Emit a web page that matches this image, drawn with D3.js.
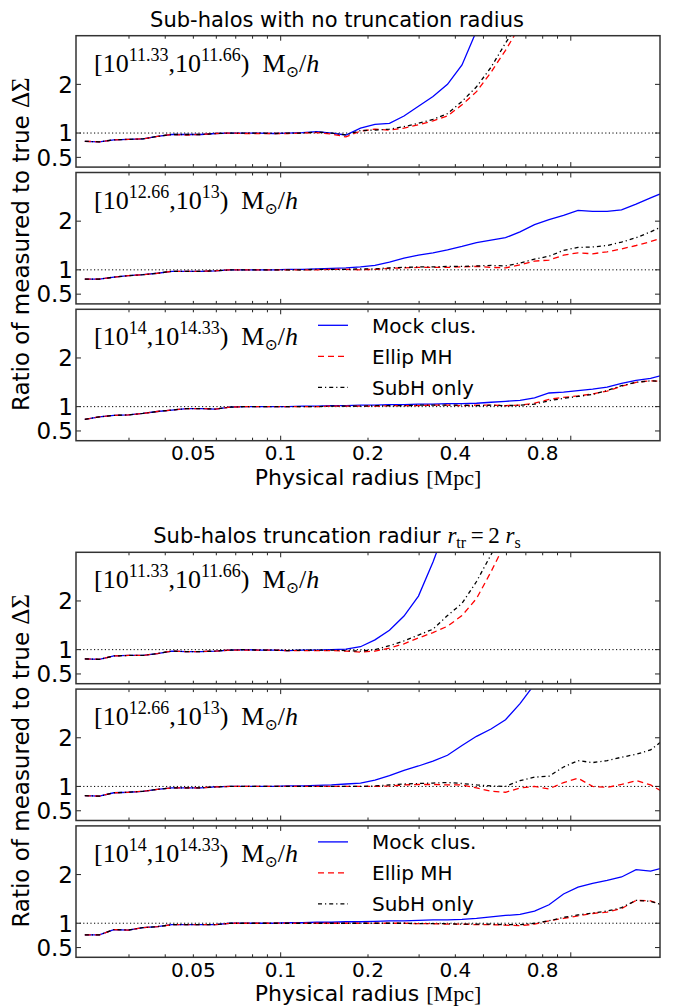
<!DOCTYPE html>
<html><head><meta charset="utf-8">
<script src="https://cdn.jsdelivr.net/npm/d3@7"></script>
<style>body{margin:0;background:#fff}svg{display:block}</style>
</head><body>
<svg id="c" width="675" height="1007"></svg>
<script>
// ---------- data ----------
const radius = [0.02113,0.02371,0.02661,0.02985,0.03350,0.03758,0.04217,0.04732,0.05309,0.05957,
  0.06683,0.07499,0.08414,0.09441,0.1059,0.1189,0.1334,0.1496,0.1679,0.1884,
  0.2113,0.2371,0.2661,0.2985,0.3350,0.3758,0.4217,0.4732,0.5309,0.5957,
  0.6683,0.7499,0.8414,0.9441,1.059,1.189,1.334,1.496,1.679,1.884,2.113];

const groupTitles = ["Sub-halos with no truncation radius", "Sub-halos truncation radiur"];
const massLo = ["11.33", "12.66", "14"];
const massHi = ["11.66", "13", "14.33"];
const seriesNames = ["Mock clus.", "Ellip MH", "SubH only"];

const xTickLabels = [0.05, 0.1, 0.2, 0.4, 0.8];
const xMajorTicks = [0.1, 1];
const xMinorTicks = [0.03,0.04,0.05,0.06,0.07,0.08,0.09,0.2,0.3,0.4,0.5,0.6,0.7,0.8,0.9];
const yTicks = [0.5, 1, 2];
const yTickLabels = ["0.5", "1", "2"];

// no truncation radius
const nt1Mock  = [0.83,0.82,0.86,0.87,0.88,0.93,0.97,0.97,0.97,0.99,1.0,1.0,1.0,0.99,1.0,1.01,1.03,1.0,0.96,1.1,1.18,1.2,1.35,1.55,1.75,2.0,2.4,3.1];
const nt1Ellip = [0.83,0.82,0.86,0.87,0.88,0.93,0.97,0.96,0.97,0.99,1.0,0.99,0.99,0.99,0.99,1.0,1.01,0.98,0.92,1.04,1.08,1.06,1.1,1.17,1.25,1.35,1.58,1.85,2.25,2.7,3.2];
const nt1SubH  = [0.83,0.82,0.86,0.87,0.88,0.93,0.97,0.97,0.97,0.99,1.0,1.0,1.0,0.99,1.0,1.0,1.02,1.0,0.96,1.05,1.06,1.08,1.13,1.2,1.28,1.4,1.65,1.95,2.35,2.85,3.3];

const nt2Mock  = [0.81,0.81,0.85,0.88,0.9,0.93,0.97,0.97,0.97,0.98,1.0,1.0,1.0,1.0,1.01,1.01,1.02,1.03,1.04,1.06,1.09,1.16,1.24,1.3,1.35,1.41,1.48,1.56,1.61,1.66,1.78,1.93,2.03,2.12,2.22,2.2,2.2,2.23,2.35,2.48,2.6];
const nt2Ellip = [0.81,0.81,0.85,0.88,0.9,0.93,0.97,0.97,0.97,0.98,1.0,1.0,1.0,1.0,1.0,1.0,1.0,1.01,1.01,1.0,1.01,1.03,1.04,1.05,1.05,1.05,1.06,1.07,1.05,1.04,1.1,1.18,1.2,1.3,1.35,1.33,1.37,1.43,1.5,1.58,1.68];
const nt2SubH  = [0.81,0.81,0.85,0.88,0.9,0.93,0.97,0.97,0.97,0.98,1.0,1.0,1.0,1.0,1.0,1.0,1.01,1.01,1.01,1.02,1.02,1.04,1.05,1.06,1.06,1.07,1.07,1.08,1.09,1.08,1.14,1.22,1.28,1.4,1.46,1.47,1.5,1.57,1.66,1.78,1.92];

const nt3Mock  = [0.74,0.79,0.82,0.83,0.86,0.9,0.93,0.96,0.96,0.95,0.99,1.0,1.0,1.0,1.0,1.01,1.01,1.02,1.02,1.03,1.03,1.04,1.04,1.05,1.05,1.06,1.06,1.07,1.09,1.11,1.13,1.18,1.28,1.3,1.33,1.36,1.4,1.48,1.54,1.58,1.66];
const nt3Ellip = [0.74,0.79,0.82,0.83,0.86,0.9,0.93,0.96,0.96,0.95,0.99,1.0,1.0,1.0,1.0,1.0,1.0,1.01,1.01,1.01,1.01,1.02,1.02,1.02,1.03,1.03,1.02,1.03,1.03,1.02,1.03,1.07,1.15,1.19,1.22,1.26,1.32,1.42,1.5,1.53,1.52];
const nt3SubH  = [0.74,0.79,0.82,0.83,0.86,0.9,0.93,0.96,0.96,0.95,0.99,1.0,1.0,1.0,1.0,1.0,1.0,1.01,1.01,1.01,1.02,1.02,1.02,1.03,1.03,1.03,1.03,1.02,1.03,1.02,1.03,1.05,1.12,1.17,1.21,1.25,1.33,1.43,1.5,1.53,1.52];

// truncation radius r_tr = 2 r_s
const tr1Mock  = [0.81,0.8,0.87,0.88,0.88,0.92,0.97,0.96,0.96,0.97,0.99,1.0,0.99,0.99,0.98,0.99,0.99,1.0,1.01,1.06,1.2,1.4,1.69,2.1,2.8,3.6];
const tr1Ellip = [0.81,0.8,0.87,0.88,0.88,0.92,0.97,0.96,0.96,0.97,0.99,0.99,0.99,0.99,0.98,0.98,0.98,0.98,0.97,0.95,0.97,1.03,1.12,1.24,1.35,1.48,1.7,2.05,2.6,3.2];
const tr1SubH  = [0.81,0.8,0.87,0.88,0.88,0.92,0.97,0.96,0.96,0.97,0.99,1.0,0.99,0.99,0.98,0.99,0.99,0.99,0.98,0.97,1.0,1.08,1.18,1.3,1.42,1.7,1.95,2.4,2.95,3.5];

const tr2Mock  = [0.81,0.8,0.87,0.88,0.9,0.94,0.97,0.97,0.97,0.99,1.0,1.0,1.0,1.0,1.01,1.01,1.02,1.03,1.05,1.07,1.13,1.22,1.33,1.42,1.52,1.64,1.84,2.03,2.18,2.37,2.7,3.1];
const tr2Ellip = [0.81,0.8,0.87,0.88,0.9,0.94,0.97,0.97,0.97,0.99,1.0,1.0,1.0,1.0,1.0,1.0,1.0,1.0,1.0,1.0,1.0,1.01,1.03,1.04,1.04,1.03,1.03,0.97,0.9,0.88,0.97,1.0,0.95,1.08,1.17,1.0,0.98,1.04,1.12,1.03,0.86];
const tr2SubH  = [0.81,0.8,0.87,0.88,0.9,0.94,0.97,0.97,0.97,0.99,1.0,1.0,1.0,1.0,1.0,1.0,1.0,1.0,1.0,1.0,1.01,1.03,1.05,1.06,1.07,1.08,1.06,1.03,1.01,1.0,1.12,1.19,1.21,1.4,1.53,1.49,1.53,1.6,1.66,1.75,1.98];

const tr3Mock  = [0.76,0.76,0.87,0.86,0.91,0.93,0.97,0.97,0.97,0.97,1.0,1.0,1.0,1.0,1.01,1.01,1.02,1.02,1.03,1.03,1.04,1.05,1.05,1.06,1.07,1.07,1.08,1.1,1.13,1.16,1.18,1.25,1.38,1.6,1.74,1.82,1.88,1.95,2.1,2.07,2.15];
const tr3Ellip = [0.76,0.76,0.87,0.86,0.91,0.93,0.97,0.97,0.97,0.97,1.0,1.0,1.0,1.0,1.0,1.0,1.0,1.0,1.0,1.0,1.0,1.0,1.0,0.99,0.99,0.98,0.98,0.97,0.97,0.96,0.95,0.98,1.05,1.1,1.15,1.2,1.23,1.3,1.47,1.46,1.35];
const tr3SubH  = [0.76,0.76,0.87,0.86,0.91,0.93,0.97,0.97,0.97,0.97,1.0,1.0,1.0,1.0,1.0,1.0,1.0,1.0,1.0,1.0,1.0,1.0,1.0,0.99,0.99,0.99,0.98,0.98,0.98,0.97,0.97,1.0,1.05,1.12,1.17,1.21,1.25,1.32,1.47,1.45,1.36];

const groups = [
  [[nt1Mock, nt1Ellip, nt1SubH], [nt2Mock, nt2Ellip, nt2SubH], [nt3Mock, nt3Ellip, nt3SubH]],
  [[tr1Mock, tr1Ellip, tr1SubH], [tr2Mock, tr2Ellip, tr2SubH], [tr3Mock, tr3Ellip, tr3SubH]]
];

// ---------- layout ----------
const L = 76, R = 660, PH = 131.4, GAP = 5.4;
const groupTop = [35.7, 552.3];
const SANS = "DejaVu Sans", SERIF = "Liberation Serif";
const styles = [
  {color: "#0000ff", dash: null},
  {color: "#ff0000", dash: "6,4"},
  {color: "#000000", dash: "4,3,1.2,3"}
];

const svg = d3.select("#c");
const x = d3.scaleLog().domain([0.0197, 2.03]).range([L, R]);

function massLabel(g, top, lo, hi) {
  const t = g.append("text").attr("x", 94).attr("y", top + 36)
    .attr("font-family", SERIF).attr("font-size", 26).attr("fill", "#000");
  t.append("tspan").text("[10");
  t.append("tspan").attr("font-size", 18).attr("dy", -11).text(lo);
  t.append("tspan").attr("dy", 11).text(",10");
  t.append("tspan").attr("font-size", 18).attr("dy", -11).text(hi);
  t.append("tspan").attr("dy", 11).text(")\u2002M");
  t.append("tspan").attr("font-size", 16).attr("dy", 5).attr("font-family", "DejaVu Serif").text("\u2299");
  t.append("tspan").attr("dy", -5).text("/");
  t.append("tspan").attr("font-style", "italic").text("h");
}

groups.forEach((panels, gi) => {
  const gTop = groupTop[gi];
  panels.forEach((series, pi) => {
    const top = gTop + pi * (PH + GAP), bot = top + PH;
    const y = d3.scaleLinear().domain([0.3, 3.0]).range([bot, top]);
    const g = svg.append("g");
    const clipId = `clip${gi}${pi}`;
    svg.append("clipPath").attr("id", clipId).append("rect")
      .attr("x", L).attr("y", top).attr("width", R - L).attr("height", PH);

    // reference line at 1
    g.append("line").attr("x1", L).attr("x2", R).attr("y1", y(1)).attr("y2", y(1))
      .attr("stroke", "#000").attr("stroke-width", 1).attr("stroke-dasharray", "1.2,2.4");

    const line = d3.line().x((d, i) => x(radius[i])).y(d => y(d));
    const lg = g.append("g").attr("clip-path", `url(#${clipId})`);
    series.forEach((vals, si) => {
      lg.append("path").datum(vals).attr("d", line).attr("fill", "none")
        .attr("stroke", styles[si].color).attr("stroke-width", 1.3)
        .attr("stroke-dasharray", styles[si].dash);
    });

    // ticks (inside)
    const tk = g.append("g").attr("stroke", "#222").attr("stroke-width", 1);
    xMinorTicks.forEach(v => {
      tk.append("line").attr("x1", x(v)).attr("x2", x(v)).attr("y1", bot).attr("y2", bot - 3);
      tk.append("line").attr("x1", x(v)).attr("x2", x(v)).attr("y1", top).attr("y2", top + 3);
    });
    xMajorTicks.forEach(v => {
      tk.append("line").attr("x1", x(v)).attr("x2", x(v)).attr("y1", bot).attr("y2", bot - 5);
      tk.append("line").attr("x1", x(v)).attr("x2", x(v)).attr("y1", top).attr("y2", top + 5);
    });
    yTicks.forEach(v => {
      tk.append("line").attr("x1", L).attr("x2", L + 5).attr("y1", y(v)).attr("y2", y(v));
      tk.append("line").attr("x1", R).attr("x2", R - 5).attr("y1", y(v)).attr("y2", y(v));
    });
    yTicks.forEach((v, k) => {
      g.append("text").attr("x", L - 3).attr("y", y(v)).attr("dy", "0.36em")
        .attr("text-anchor", "end").attr("font-family", SANS).attr("font-size", 23)
        .text(yTickLabels[k]);
    });

    // frame
    g.append("rect").attr("x", L).attr("y", top).attr("width", R - L).attr("height", PH)
      .attr("fill", "none").attr("stroke", "#333").attr("stroke-width", 1.5);

    massLabel(g, top, massLo[pi], massHi[pi]);

    if (pi === 2) {
      // legend
      seriesNames.forEach((name, si) => {
        const ly = top + 16 + si * 31;
        g.append("line").attr("x1", 318).attr("x2", 348).attr("y1", ly).attr("y2", ly)
          .attr("stroke", styles[si].color).attr("stroke-width", 1.3)
          .attr("stroke-dasharray", styles[si].dash);
        g.append("text").attr("x", 372).attr("y", ly).attr("dy", "0.36em")
          .attr("font-family", SANS).attr("font-size", 20).text(name);
      });
      // x tick labels
      xTickLabels.forEach(v => {
        g.append("text").attr("x", x(v)).attr("y", bot + 19.5).attr("text-anchor", "middle")
          .attr("font-family", SANS).attr("font-size", 20).text(String(v));
      });
      const xl = g.append("text").attr("x", (L + R) / 2).attr("y", bot + 44)
        .attr("text-anchor", "middle").attr("font-family", SANS).attr("font-size", 22);
      xl.append("tspan").text("Physical radius ");
      xl.append("tspan").attr("font-family", SERIF).attr("font-size", 22).text("[Mpc]");
    }
  });

  // y label
  const cy = gTop + (3 * PH + 2 * GAP) / 2 + 6;
  const yl = svg.append("text").attr("transform", `translate(29,${cy}) rotate(-90)`)
    .attr("text-anchor", "middle").attr("font-family", SANS).attr("font-size", 23);
  yl.append("tspan").text("Ratio of measured to true ");
  yl.append("tspan").attr("font-family", SERIF).attr("font-size", 25).text("\u0394\u03a3");

  // title (centered on figure)
  const tt = svg.append("text").attr("x", 337).attr("y", gTop - 9)
    .attr("text-anchor", "middle").attr("font-family", SANS).attr("font-size", 21);
  tt.append("tspan").text(groupTitles[gi]);
  if (gi === 1) {
    tt.append("tspan").text("\u00a0");
    tt.append("tspan").attr("font-family", SERIF).attr("font-style", "italic").attr("font-size", 23).text("r");
    tt.append("tspan").attr("font-family", SERIF).attr("font-size", 16).attr("dy", 5).text("tr");
    tt.append("tspan").attr("font-family", SERIF).attr("font-size", 23).attr("dy", -5).text("\u2009=\u20092\u00a0");
    tt.append("tspan").attr("font-family", SERIF).attr("font-style", "italic").attr("font-size", 23).text("r");
    tt.append("tspan").attr("font-family", SERIF).attr("font-size", 16).attr("dy", 5).text("s");
  }
});
</script>
</body></html>
